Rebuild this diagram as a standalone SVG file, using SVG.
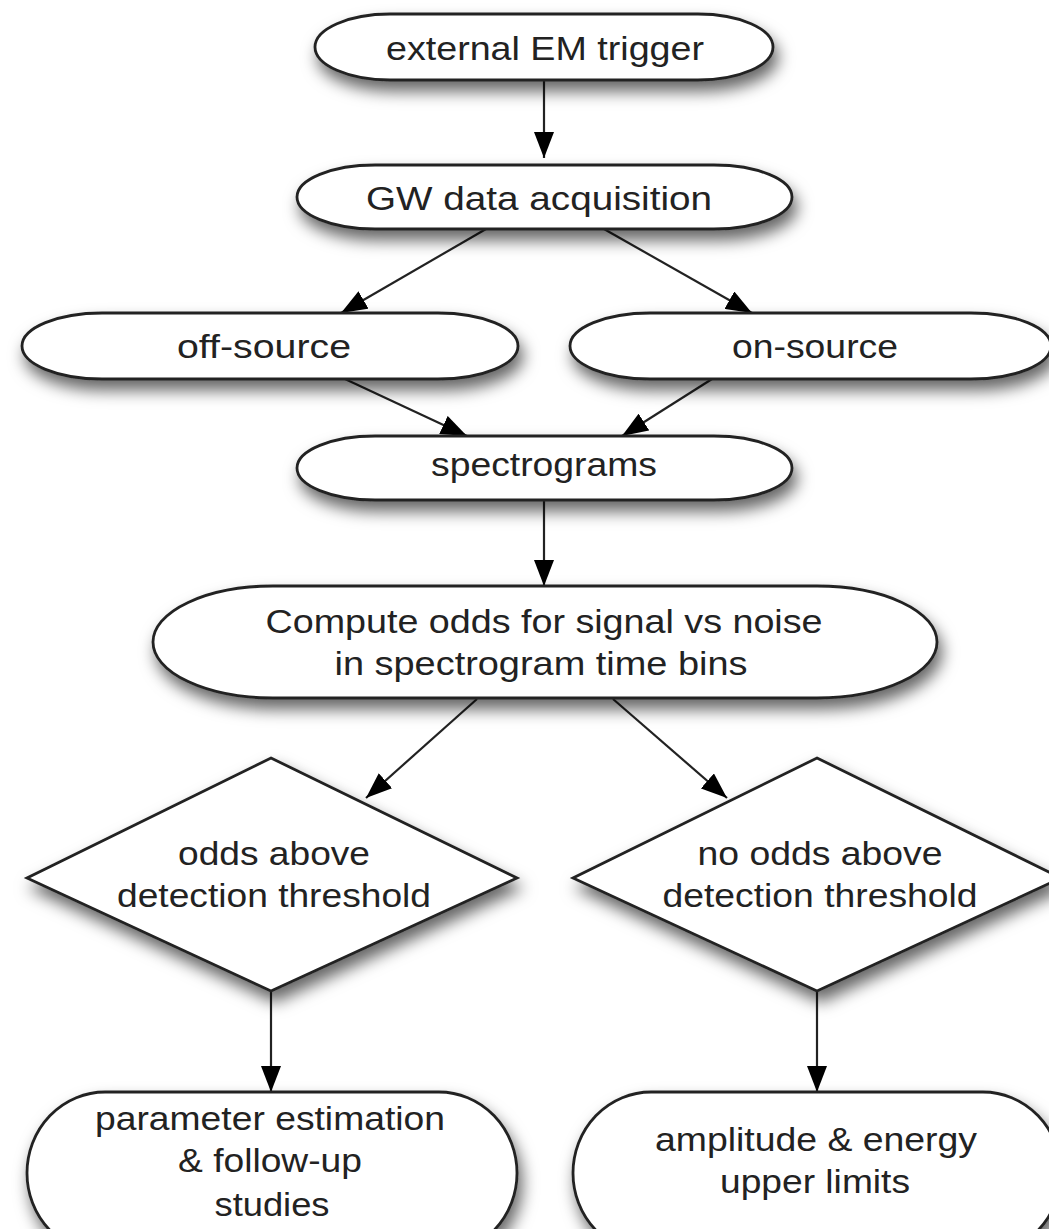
<svg xmlns="http://www.w3.org/2000/svg" width="1049" height="1229" viewBox="0 0 1049 1229">
<style>
.shape{fill:#fff;stroke:#222;stroke-width:2.8;filter:url(#sh)}
.lbl{font-family:"Liberation Sans",Arial,Helvetica,sans-serif;font-size:34px;fill:#222;text-anchor:middle}
.edge{stroke:#222;stroke-width:2.2;fill:none;marker-end:url(#arr)}
</style>
<defs>
<filter id="sh" x="-20%" y="-30%" width="140%" height="180%">
<feDropShadow dx="4" dy="10" stdDeviation="8" flood-color="#000" flood-opacity="0.6"/>
</filter>
<marker id="arr" viewBox="0 0 26 20" refX="26" refY="10" markerWidth="26" markerHeight="20" orient="auto" markerUnits="userSpaceOnUse">
<path d="M0,0 L26,10 L0,20 z" fill="#000"/>
</marker>
</defs>
<rect width="1049" height="1229" fill="#fff"/>
<g id="connectors">
<line class="edge" x1="544" y1="81" x2="544" y2="158"/>
<line class="edge" x1="486" y1="229" x2="341" y2="313"/>
<line class="edge" x1="604" y1="229" x2="752" y2="313"/>
<line class="edge" x1="345" y1="379" x2="467" y2="436"/>
<line class="edge" x1="712" y1="379" x2="622" y2="436"/>
<line class="edge" x1="544" y1="501" x2="544" y2="586"/>
<line class="edge" x1="477" y1="699" x2="366" y2="798"/>
<line class="edge" x1="613" y1="699" x2="727" y2="798"/>
<line class="edge" x1="271" y1="992" x2="271" y2="1092"/>
<line class="edge" x1="817" y1="992" x2="817" y2="1092"/>
</g>
<g id="n1">
<rect class="shape" x="315" y="14" width="458" height="66" rx="75" ry="33"/>
<text class="lbl" x="545" y="60" textLength="318" lengthAdjust="spacingAndGlyphs">external EM trigger</text>
</g>
<g id="n2">
<rect class="shape" x="297" y="165" width="495" height="64" rx="78" ry="32"/>
<text class="lbl" x="539" y="210" textLength="346" lengthAdjust="spacingAndGlyphs">GW data acquisition</text>
</g>
<g id="n3">
<rect class="shape" x="22" y="313" width="496" height="66" rx="80" ry="33"/>
<text class="lbl" x="264" y="358" textLength="174" lengthAdjust="spacingAndGlyphs">off-source</text>
</g>
<g id="n4">
<rect class="shape" x="570" y="313" width="481" height="66" rx="80" ry="33"/>
<text class="lbl" x="815" y="358" textLength="166" lengthAdjust="spacingAndGlyphs">on-source</text>
</g>
<g id="n5">
<rect class="shape" x="297" y="436" width="495" height="64" rx="78" ry="32"/>
<text class="lbl" x="544" y="476" textLength="226" lengthAdjust="spacingAndGlyphs">spectrograms</text>
</g>
<g id="n6">
<rect class="shape" x="153" y="586" width="784" height="112" rx="120" ry="56"/>
<text class="lbl" x="544" y="633" textLength="557" lengthAdjust="spacingAndGlyphs">Compute odds for signal vs noise</text>
<text class="lbl" x="541" y="675" textLength="413" lengthAdjust="spacingAndGlyphs">in spectrogram time bins</text>
</g>
<g id="n7">
<polygon class="shape" points="271,758 517,878 271,991 27,878"/>
<text class="lbl" x="274" y="865" textLength="192" lengthAdjust="spacingAndGlyphs">odds above</text>
<text class="lbl" x="274" y="907" textLength="314" lengthAdjust="spacingAndGlyphs">detection threshold</text>
</g>
<g id="n8">
<polygon class="shape" points="817,758 1061,878 817,991 573,878"/>
<text class="lbl" x="820" y="865" textLength="245" lengthAdjust="spacingAndGlyphs">no odds above</text>
<text class="lbl" x="820" y="907" textLength="315" lengthAdjust="spacingAndGlyphs">detection threshold</text>
</g>
<g id="n9">
<rect class="shape" x="27" y="1092" width="490" height="162" rx="78" ry="81"/>
<text class="lbl" x="270" y="1130" textLength="350" lengthAdjust="spacingAndGlyphs">parameter estimation</text>
<text class="lbl" x="270" y="1172" textLength="184" lengthAdjust="spacingAndGlyphs">&amp; follow-up</text>
<text class="lbl" x="272" y="1216" textLength="115" lengthAdjust="spacingAndGlyphs">studies</text>
</g>
<g id="n10">
<rect class="shape" x="573" y="1092" width="488" height="162" rx="78" ry="81"/>
<text class="lbl" x="816" y="1151" textLength="322" lengthAdjust="spacingAndGlyphs">amplitude &amp; energy</text>
<text class="lbl" x="815" y="1193" textLength="190" lengthAdjust="spacingAndGlyphs">upper limits</text>
</g>
</svg>
